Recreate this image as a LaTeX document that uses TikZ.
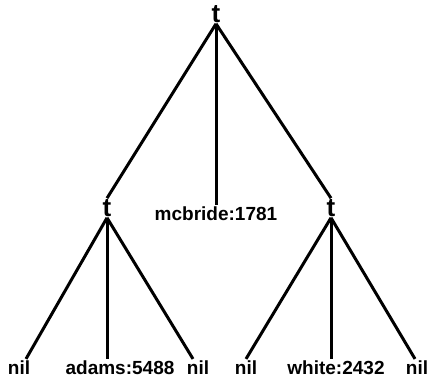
\documentclass[tikz,border=0pt]{standalone}
\usepackage{fontspec}
\setmainfont{Liberation Sans}
\begin{document}
\begin{tikzpicture}[
    x=1pt, y=1pt,
    tnode/.style={font=\fontsize{26}{26}\selectfont\bfseries, inner sep=1pt},
    leaf/.style={font=\fontsize{19}{19}\selectfont\bfseries, inner sep=2pt},
    edge/.style={line width=3pt},
    every node/.style={inner sep=2pt}
]
\useasboundingbox (0,0) rectangle (427,382);

% Internal nodes
\node[tnode] (root) at (216, 368) {t};
\node[tnode] (lt) at (107, 174) {t};
\node[tnode] (rt) at (331, 174) {t};
\node[leaf] (mcb) at (216, 168) {mcbride:1781};

% Leaves
\node[leaf] (nila) at (19, 14) {nil};
\node[leaf] (adams) at (120, 14) {adams:5488};
\node[leaf] (nilb) at (198, 14) {nil};
\node[leaf] (nilc) at (246, 14) {nil};
\node[leaf] (white) at (336, 14) {white:2432};
\node[leaf] (nild) at (417, 14) {nil};

% Root edges
\draw[edge] (root.south) -- (lt.north);
\draw[edge] (root.south) -- (mcb.north);
\draw[edge] (root.south) -- (rt.north);

% Left subtree
\draw[edge] (lt.south) -- ([xshift=7pt]nila.north);
\draw[edge] (lt.south) -- (lt |- adams.north);
\draw[edge] (lt.south) -- ([xshift=-5pt]nilb.north);

% Right subtree
\draw[edge] (rt.south) -- (nilc.north);
\draw[edge] (rt.south) -- (rt |- white.north);
\draw[edge] (rt.south) -- ([xshift=-2pt]nild.north);

\end{tikzpicture}
\end{document}
